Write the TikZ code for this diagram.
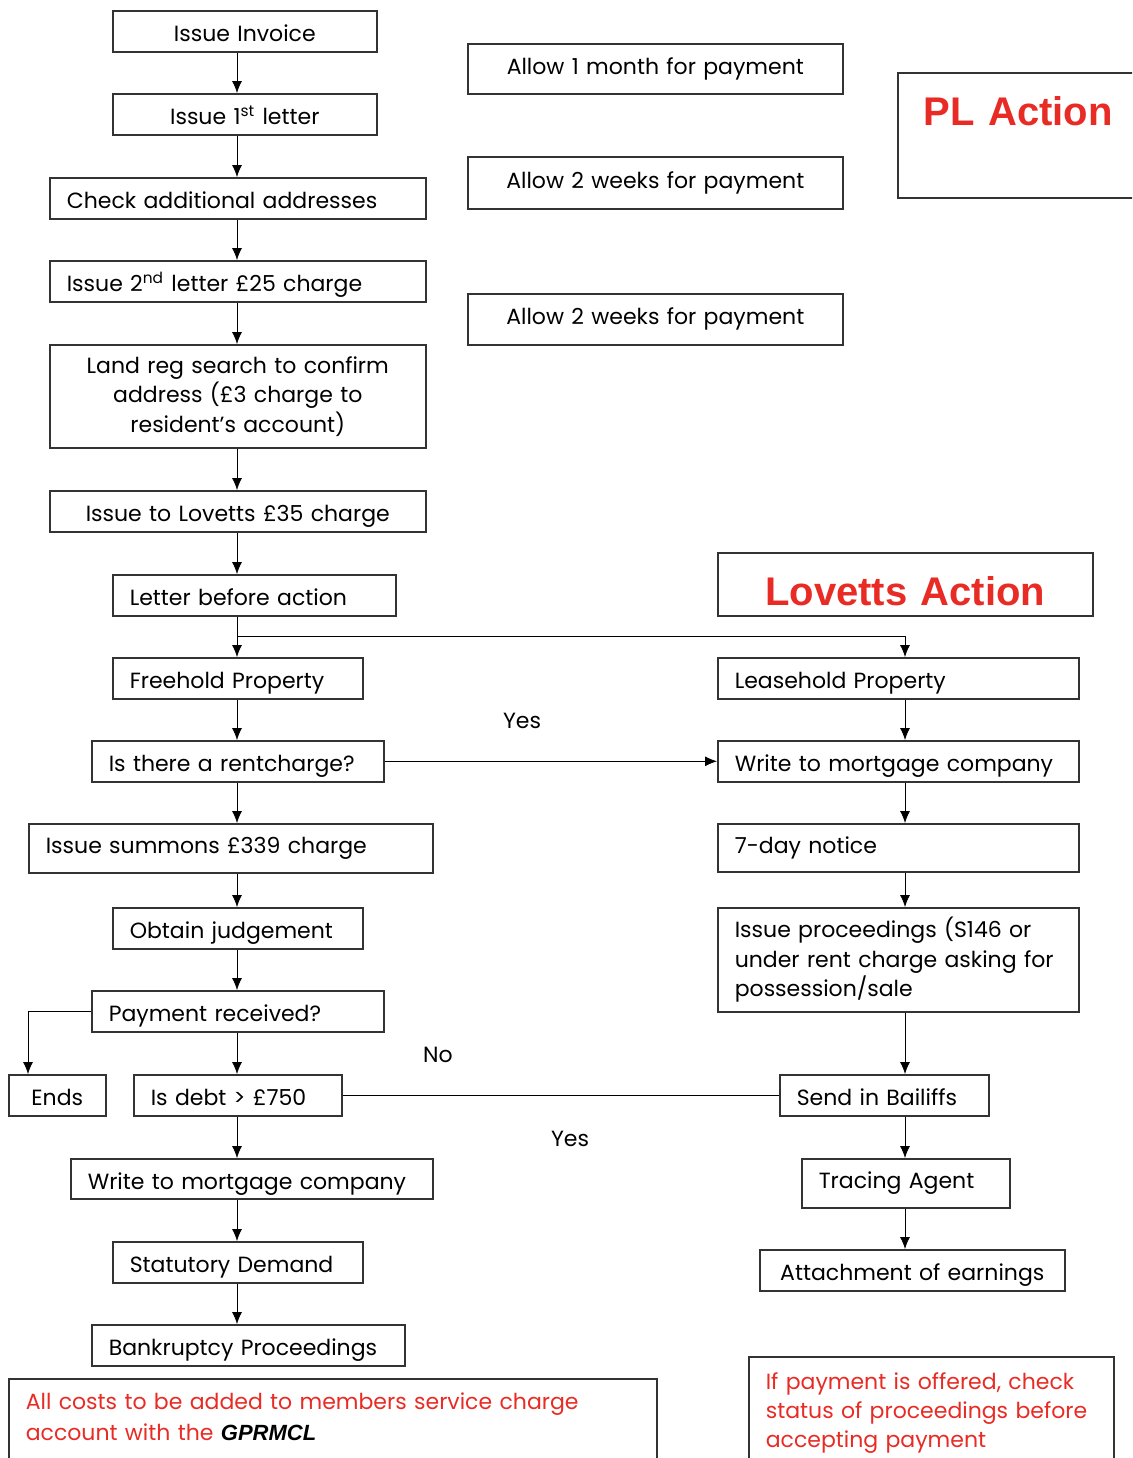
\documentclass[tikz,border=0pt]{standalone}
\usepackage{fontspec}
\setmainfont{Poppins}
\newfontfamily\titlefont{Liberation Sans}
\usetikzlibrary{positioning, arrows.meta}
\definecolor{actionred}{RGB}{232,43,36}

\begin{document}
\begin{tikzpicture}[
    x=0.5pt, y=-0.5pt,
    font=\fontsize{11}{14.75}\selectfont,
    flow_box/.style={rectangle, draw=black!80, line width=0.8pt, anchor=north west, inner xsep=8.5pt, inner ysep=0pt, minimum height=20.5pt, align=left},
    line_box/.style={flow_box, text height=10.5pt, text depth=0pt},
    title_text/.style={text=actionred, font=\titlefont\bfseries\fontsize{20}{24}\selectfont},
    note_text/.style={text=actionred, align=left, anchor=north west, draw=black!80, line width=0.8pt, inner xsep=8.5pt, inner ysep=7pt, font=\fontsize{11}{15.25}\selectfont},
    answer/.style={font=\fontsize{11}{12}\selectfont},
    arrow/.style={->, >={Latex[length=6pt, width=5pt]}, thin, black}
]
    \useasboundingbox (0,0) rectangle (1132,1458);
    \clip (0,0) rectangle (1132,1458);

    % Spines for the arrows
    \coordinate (leftx) at (237,0);
    \coordinate (rightx) at (905,0);
    \coordinate (endsx) at (28,0);
    \coordinate (split) at (237,636);

    % PL side
    \node[line_box, align=center, text width=115pt] (invoice) at (112,10) {Issue Invoice};
    \node[line_box, align=center, text width=115pt] (letter1) at (112,93) {Issue 1\textsuperscript{st} letter};
    \node[line_box, text width=171pt] (addresses) at (49,177) {Check additional addresses};
    \node[line_box, text width=171pt] (letter2) at (49,260) {Issue 2\textsuperscript{nd} letter £25 charge};
    \node[flow_box, align=center, text width=171pt, minimum height=51.5pt] (landreg) at (49,344) {Land reg search to confirm\\address (£3 charge to\\resident’s account)};
    \node[line_box, align=center, text width=171pt] (tolovetts) at (49,490) {Issue to Lovetts £35 charge};
    \node[line_box, text width=124.5pt] (lba) at (112,574) {Letter before action};

    % Waiting times
    \node[flow_box, align=center, text width=170.5pt, minimum height=25pt] (allow1) at (467,43) {Allow 1 month for payment};
    \node[flow_box, align=center, text width=170.5pt, minimum height=26pt] (allow2) at (467,156) {Allow 2 weeks for payment};
    \node[flow_box, align=center, text width=170.5pt, minimum height=25.5pt] (allow3) at (467,293) {Allow 2 weeks for payment};

    % Titles
    \node[flow_box, title_text, text width=124pt, minimum height=0pt, inner xsep=13pt, inner ysep=12pt, text height=14.5pt, text depth=24pt] (plaction) at (897,72) {PL Action};
    \node[flow_box, title_text, align=center, text width=170.5pt, minimum height=31.5pt, text height=21pt, text depth=0pt] (lovettsaction) at (717,552) {Lovetts Action};

    % Freehold branch
    \node[line_box, text width=108pt] (freehold) at (112,657) {Freehold Property};
    \node[line_box, text width=129pt] (rentcharge) at (91,740) {Is there a rentcharge?};
    \node[flow_box, text width=185pt, minimum height=24.5pt] (summons) at (28,823) {Issue summons £339 charge};
    \node[line_box, text width=108pt] (judgement) at (112,907) {Obtain judgement};
    \node[line_box, text width=129pt] (payment) at (91,990) {Payment received?};
    \node[line_box, align=center, text width=31.5pt] (ends) at (8,1074) {Ends};
    \node[line_box, text width=87pt] (debt) at (133,1074) {Is debt > £750};
    \node[line_box, text width=164pt, minimum height=20pt] (mortgageL) at (70,1158) {Write to mortgage company};
    \node[line_box, text width=108pt] (statutory) at (112,1241) {Statutory Demand};
    \node[line_box, text width=139.5pt] (bankruptcy) at (91,1324) {Bankruptcy Proceedings};

    % Leasehold branch
    \node[line_box, text width=163.5pt] (leasehold) at (717,657) {Leasehold Property};
    \node[line_box, text width=163.5pt] (mortgageR) at (717,740) {Write to mortgage company};
    \node[flow_box, text width=163.5pt, minimum height=24pt] (notice) at (717,823) {7-day notice};
    \node[flow_box, text width=163.5pt, minimum height=52pt] (proceedings) at (717,907) {Issue proceedings (S146 or\\under rent charge asking for\\possession/sale};
    \node[line_box, text width=87.5pt] (bailiffs) at (779,1074) {Send in Bailiffs};
    \node[flow_box, text width=87pt, minimum height=24.5pt] (tracing) at (801,1158) {Tracing Agent};
    \node[line_box, align=center, text width=135.5pt] (attachment) at (759,1249) {Attachment of earnings};

    % Answers
    \node[answer] (yes1) at (522,721) {Yes};
    \node[answer] (no1) at (438,1055) {No};
    \node[answer] (yes2) at (570,1139) {Yes};

    % Notes
    \node[note_text, text width=307pt, text depth=45pt] (costs) at (8,1378) {All costs to be added to members service charge\\account with the {\color{black}\titlefont\bfseries\itshape GPRMCL}};
    \node[note_text, text width=165.5pt, text depth=45pt, inner ysep=8pt, font=\fontsize{11}{14.5}\selectfont] (offered) at (748,1356) {If payment is offered, check\\status of proceedings before\\accepting payment};

    % Arrows
    \draw[arrow] (invoice.south -| leftx) -- (letter1.north -| leftx);
    \draw[arrow] (letter1.south -| leftx) -- (addresses.north -| leftx);
    \draw[arrow] (addresses.south -| leftx) -- (letter2.north -| leftx);
    \draw[arrow] (letter2.south -| leftx) -- (landreg.north -| leftx);
    \draw[arrow] (landreg.south -| leftx) -- (tolovetts.north -| leftx);
    \draw[arrow] (tolovetts.south -| leftx) -- (lba.north -| leftx);
    \draw[arrow] (lba.south -| leftx) -- (freehold.north -| leftx);
    \draw[arrow] (split) -| (leasehold.north -| rightx);
    \draw[arrow] (freehold.south -| leftx) -- (rentcharge.north -| leftx);
    \draw[arrow] (rentcharge.east) -- (mortgageR.west);
    \draw[arrow] (rentcharge.south -| leftx) -- (summons.north -| leftx);
    \draw[arrow] (summons.south -| leftx) -- (judgement.north -| leftx);
    \draw[arrow] (judgement.south -| leftx) -- (payment.north -| leftx);
    \draw[arrow] (payment.west) -| (ends.north -| endsx);
    \draw[arrow] (payment.south -| leftx) -- (debt.north -| leftx);
    \draw (debt.east) -- (bailiffs.west);
    \draw[arrow] (debt.south -| leftx) -- (mortgageL.north -| leftx);
    \draw[arrow] (mortgageL.south -| leftx) -- (statutory.north -| leftx);
    \draw[arrow] (statutory.south -| leftx) -- (bankruptcy.north -| leftx);
    \draw[arrow] (leasehold.south -| rightx) -- (mortgageR.north -| rightx);
    \draw[arrow] (mortgageR.south -| rightx) -- (notice.north -| rightx);
    \draw[arrow] (notice.south -| rightx) -- (proceedings.north -| rightx);
    \draw[arrow] (proceedings.south -| rightx) -- (bailiffs.north -| rightx);
    \draw[arrow] (bailiffs.south -| rightx) -- (tracing.north -| rightx);
    \draw[arrow] (tracing.south -| rightx) -- (attachment.north -| rightx);
\end{tikzpicture}
\end{document}
